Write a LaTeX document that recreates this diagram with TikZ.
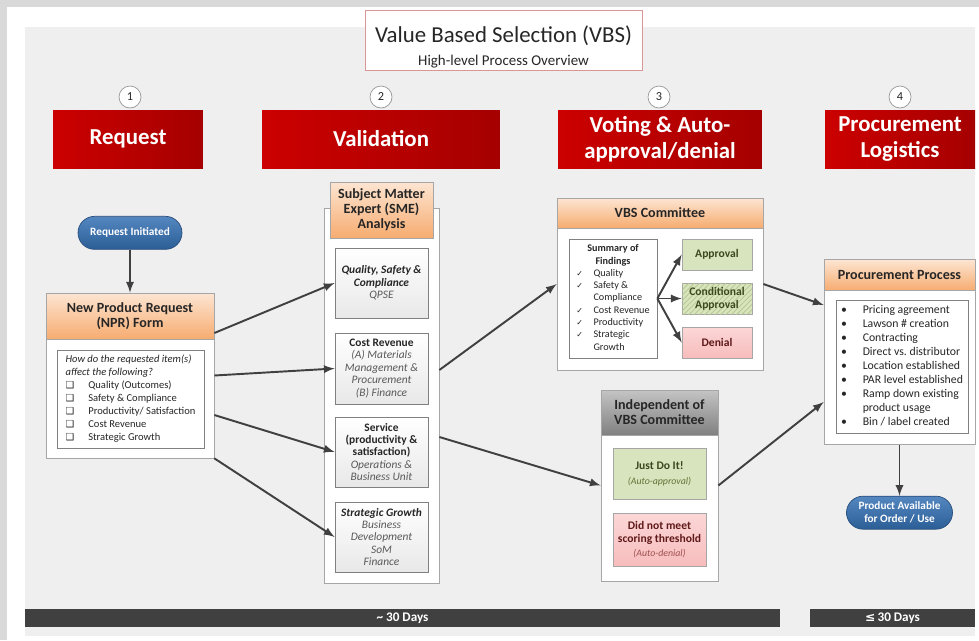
\documentclass[tikz,border=0pt]{standalone}
\usepackage{fontspec}
\setmainfont{Carlito}
\newfontfamily\symfont{DejaVu Sans}
\usetikzlibrary{positioning}
\usetikzlibrary{patterns}
\definecolor{framegray}{RGB}{217, 217, 217}
\definecolor{slide}{RGB}{239, 239, 239}
\definecolor{titleborder}{RGB}{217, 150, 148}
\definecolor{stagered}{RGB}{204, 0, 0}
\definecolor{stagedark}{RGB}{165, 0, 0}
\definecolor{numgray}{RGB}{150, 150, 150}
\definecolor{pilltop}{RGB}{84, 134, 192}
\definecolor{pillbottom}{RGB}{44, 94, 150}
\definecolor{pillborder}{RGB}{40, 78, 125}
\definecolor{panelgray}{RGB}{166, 166, 166}
\definecolor{headtop}{RGB}{253, 229, 210}
\definecolor{headbottom}{RGB}{246, 172, 112}
\definecolor{greytop}{RGB}{196, 196, 196}
\definecolor{greybottom}{RGB}{128, 128, 128}
\definecolor{listgray}{RGB}{128, 128, 128}
\definecolor{smegray}{RGB}{232, 232, 232}
\definecolor{okgreen}{RGB}{215, 228, 189}
\definecolor{hatch}{RGB}{180, 198, 140}
\definecolor{nopink}{RGB}{247, 188, 188}
\definecolor{nolight}{RGB}{252, 215, 215}
\definecolor{flowgray}{RGB}{64, 64, 64}
\definecolor{bardark}{RGB}{64, 64, 64}
\definecolor{textdark}{RGB}{38, 38, 38}
\definecolor{textsoft}{RGB}{89, 89, 89}
\definecolor{oktext}{RGB}{60, 72, 30}
\definecolor{oksoft}{RGB}{100, 115, 55}
\definecolor{notext}{RGB}{95, 25, 25}
\definecolor{nosoft}{RGB}{160, 80, 80}
\newcommand{\fsz}[2]{\fontsize{#1}{#2}\selectfont}
\newcommand{\soft}[1]{{\itshape\color{textsoft}#1}}
\newcommand{\chk}{{\symfont\fsz{4.5}{6}✓}}
\newcommand{\boxmark}{{\symfont\fsz{5.5}{6}❑}}
\tikzset{
  stage/.style    = {rectangle, left color=stagered, right color=stagedark,
                     text=white, align=center, minimum height=1.16cm,
                     font=\bfseries\fsz{13}{15}},
  num/.style      = {circle, draw=numgray, fill=white, minimum size=0.44cm,
                     inner sep=0pt, text=textdark, font=\fsz{7}{8}},
  pill/.style     = {rectangle, rounded corners=0.33cm, draw=pillborder,
                     top color=pilltop, bottom color=pillbottom, text=white,
                     align=center, minimum height=0.66cm, inner sep=1pt,
                     font=\bfseries\fsz{6.4}{7.4}},
  panel/.style    = {rectangle, draw=panelgray, fill=white},
  head/.style     = {rectangle, draw=panelgray, top color=headtop,
                     bottom color=headbottom, text=textdark, align=center,
                     inner sep=1pt, font=\bfseries\fsz{8}{8.6}},
  greyhead/.style = {head, top color=greytop, bottom color=greybottom},
  listbox/.style  = {rectangle, draw=listgray, fill=white, text=textdark,
                     inner sep=1pt, font=\fsz{6}{7.4}},
  smebox/.style   = {rectangle, draw=listgray, top color=white,
                     bottom color=smegray, text=textdark, align=center,
                     minimum width=1.86cm, minimum height=1.4cm, inner sep=1pt,
                     font=\fsz{6.5}{7.1}},
  okbox/.style    = {rectangle, draw=panelgray, fill=okgreen, text=oktext,
                     align=center, minimum width=1.4cm, minimum height=0.62cm,
                     inner sep=1pt, font=\bfseries\fsz{6.6}{7.4}},
  condbox/.style  = {okbox, postaction={pattern=north east lines,
                     pattern color=hatch}},
  nobox/.style    = {okbox, fill=none, top color=nolight, bottom color=nopink,
                     text=notext},
  daybar/.style   = {rectangle, fill=bardark, text=white, inner sep=0pt,
                     minimum height=0.36cm, font=\bfseries\fsz{7.5}{8}},
  flow/.style     = {-latex, line width=1.1pt, color=flowgray}
}
\begin{document}
\begin{tikzpicture}[x=0.02cm, y=-0.02cm]
  \useasboundingbox (0,0) rectangle (979,640);
  \fill[framegray] (0,0) rectangle (979,640);
  \fill[white] (7,7) rectangle (979,640);
  \fill[slide] (25,27) rectangle (975,636);

  \node [draw=titleborder, fill=white, minimum width=5.54cm, minimum height=1.2cm] (title) at (503.5,40) {};
  \node [align=center, text=textdark] (titletext) at (503.5,47)
        {{\fsz{13}{15}Value Based Selection (VBS)}\\[1pt]{\fsz{8.5}{10}High-level Process Overview}};

  \node [num] (n1) at (130,97) {1};
  \node [num] (n2) at (381,97) {2};
  \node [num] (n3) at (659,97) {3};
  \node [num] (n4) at (900,97) {4};
  \node [stage, minimum width=3cm] (request) at (128,139) {Request};
  \node [stage, minimum width=4.76cm] (validation) at (381,139) {Validation};
  \node [stage, minimum width=4.08cm] (voting) at (660,139) {Voting \& Auto-\\approval/denial};
  \node [stage, minimum width=3cm] (logistics) at (900,139) {Procurement\\Logistics};

  \node [panel, minimum width=3.36cm, minimum height=3.3cm] (npr) at (130,375.5) {};
  \node [head, minimum width=3.36cm, minimum height=0.92cm, anchor=north] (nprhead) at (npr.north) {New Product Request\\(NPR) Form};
  \node [pill, minimum width=2.08cm, above=0.86cm of nprhead] (reqinit) {Request Initiated};
  \node [listbox, minimum width=2.94cm, minimum height=1.96cm] (nprlist) at (130.5,399)
        {\begin{tabular}{@{}l@{\hspace{8pt}}l@{}}
         \multicolumn{2}{@{}l@{}}{\itshape How do the requested item(s)}\\
         \multicolumn{2}{@{}l@{}}{\itshape affect the following?}\\
         \boxmark & Quality (Outcomes)\\
         \boxmark & Safety \& Compliance\\
         \boxmark & Productivity/ Satisfaction\\
         \boxmark & Cost Revenue\\
         \boxmark & Strategic Growth
         \end{tabular}};

  \node [panel, minimum width=2.3cm, minimum height=7.5cm] (sme) at (381.5,395.5) {};
  \node [head, minimum width=2.06cm, minimum height=1.12cm] (smehead) at (381.5,210) {Subject Matter\\Expert (SME)\\Analysis};
  \node [smebox] (qpse) at (381.5,283)
        {\textbf{\textit{Quality, Safety \&}}\\\textbf{\textit{Compliance}}\\\soft{QPSE}};
  \node [smebox, minimum height=1.42cm] (cost) at (381.5,368.5)
        {\textbf{Cost Revenue}\\\soft{(A) Materials}\\\soft{Management \&}\\\soft{Procurement}\\\soft{(B) Finance}};
  \node [smebox] (service) at (381.5,452)
        {\textbf{Service}\\\textbf{(productivity \&}\\\textbf{satisfaction)}\\\soft{Operations \&}\\\soft{Business Unit}};
  \node [smebox] (growth) at (381.5,537)
        {\textbf{\textit{Strategic Growth}}\\\soft{Business}\\\soft{Development}\\\soft{SoM}\\\soft{Finance}};

  \node [panel, minimum width=4.12cm, minimum height=3.44cm] (vbs) at (660,284) {};
  \node [head, minimum width=4.12cm, minimum height=0.6cm, anchor=north] (vbshead) at (vbs.north) {VBS Committee};
  \node [listbox, minimum width=1.76cm, minimum height=2.38cm, font=\fsz{5.8}{7}] (summary) at (613,298.5)
        {\begin{tabular}{@{}l@{\hspace{6pt}}l@{}}
         \multicolumn{2}{c}{\bfseries Summary of}\\
         \multicolumn{2}{c}{\bfseries Findings}\\
         \chk & Quality\\
         \chk & Safety \&\\
              & Compliance\\
         \chk & Cost Revenue\\
         \chk & Productivity\\
         \chk & Strategic\\
              & Growth
         \end{tabular}};
  \node [okbox] (approval) at (717,254.5) {Approval};
  \node [condbox] (conditional) at (717,298.5) {Conditional\\Approval};
  \node [nobox] (denial) at (717,342.5) {Denial};

  \node [panel, minimum width=2.34cm, minimum height=3.82cm] (indep) at (659.5,485.5) {};
  \node [greyhead, minimum width=2.34cm, minimum height=0.9cm, anchor=north] (indephead) at (indep.north) {Independent of\\VBS Committee};
  \node [okbox, minimum width=1.86cm, minimum height=1.02cm] (justdo) at (659.5,473.5)
        {Just Do It!\\[1pt]{\mdseries\itshape\color{oksoft}\fsz{5.6}{6.5}(Auto-approval)}};
  \node [nobox, minimum width=1.86cm, minimum height=1.06cm] (autodeny) at (659.5,539.5)
        {Did not meet\\scoring threshold\\[1pt]{\mdseries\itshape\color{nosoft}\fsz{5.6}{6.5}(Auto-denial)}};

  \node [panel, minimum width=3.02cm, minimum height=3.7cm] (proc) at (899.5,352) {};
  \node [head, minimum width=3.02cm, minimum height=0.62cm, anchor=north] (prochead) at (proc.north) {Procurement Process};
  \node [listbox, minimum width=2.64cm, minimum height=2.66cm, font=\fsz{6.7}{8}] (proclist) at (902,366.5)
        {\begin{tabular}{@{}l@{\hspace{9pt}}l@{}}
         • & Pricing agreement\\
         • & Lawson \# creation\\
         • & Contracting\\
         • & Direct vs.\ distributor\\
         • & Location established\\
         • & PAR level established\\
         • & Ramp down existing\\
           & product usage\\
         • & Bin / label created
         \end{tabular}};
  \node [pill, minimum width=2.12cm, below=1.02cm of proc] (available) {Product Available\\for Order / Use};

  \node [daybar, minimum width=15.1cm] (bar1) at (402.5,618) {\textasciitilde{} 30 Days};
  \node [daybar, minimum width=3.3cm] (bar2) at (892.5,618) {{\symfont\fsz{7}{8}≤}\,30 Days};

  \path[flow] (reqinit) edge (nprhead);
  \path[flow] ([yshift=0.85cm]npr.east) edge (qpse.west);
  \path[flow] (npr.east) edge (cost.west);
  \path[flow] ([yshift=-0.79cm]npr.east) edge (service.west);
  \path[flow] (npr.south east) edge (growth.west);
  \path[flow] ([yshift=0.51cm]sme.east) edge (vbs.west);
  \path[flow] ([yshift=-0.83cm]sme.east) edge (indep.west);
  \path[flow] (summary.east) edge (approval.west);
  \path[flow] (summary.east) edge (conditional.west);
  \path[flow] (summary.east) edge (denial.west);
  \path[flow] (vbs.east) edge ([yshift=0.94cm]proc.west);
  \path[flow] (indep.east) edge ([yshift=-1cm]proc.west);
  \path[flow] (proc) edge (available);
\end{tikzpicture}
\end{document}
